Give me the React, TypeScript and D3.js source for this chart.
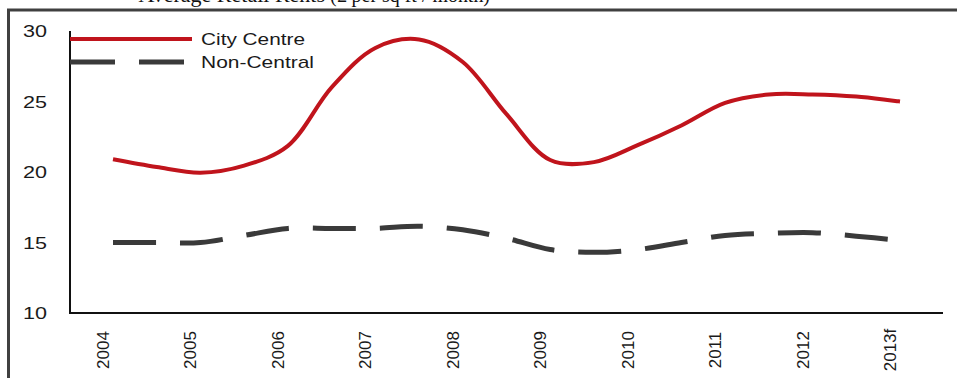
import React from "react";
import * as d3 from "d3";

// Half-yearly observations, 2004 H1 through 2013f H1
const periods: number[] = d3.range(19);
const cityCentre: number[] = [
  20.9, 20.35, 19.95, 20.45, 21.85, 26.0, 28.8, 29.4, 27.8, 24.1,
  20.85, 20.7, 21.9, 23.3, 24.9, 25.5, 25.5, 25.35, 25.0,
];
const nonCentral: number[] = [
  15.0, 15.0, 15.0, 15.5, 16.0, 16.0, 16.0, 16.15, 15.9, 15.3,
  14.5, 14.3, 14.5, 15.0, 15.5, 15.65, 15.7, 15.45, 15.15,
];
const yearLabels: string[] = [
  "2004", "2005", "2006", "2007", "2008", "2009", "2010", "2011", "2012", "2013f",
];
const yTicks: number[] = [10, 15, 20, 25, 30];
const seriesNames: string[] = ["City Centre", "Non-Central"];

const W = 957;
const H = 378;
const FONT = "'Liberation Sans', Arial, sans-serif";

export default function App() {
  const x = d3.scaleLinear().domain([0, 18]).range([113, 900]);
  const y = d3.scaleLinear().domain([10, 30]).range([313, 31]);

  const line = d3
    .line<number>()
    .x((_, i) => x(periods[i]))
    .y((d) => y(d))
    .curve(d3.curveCatmullRom.alpha(0.5));

  const axisLeft = 70;
  const axisRight = 943;

  return (
    <div style={{ position: "fixed", left: 0, top: 0 }}>
      <svg width={W} height={H} style={{ display: "block", background: "#fff" }}>
        {/* chart title, running off the top edge */}
        <text
          x={325}
          y={2}
          textAnchor="end"
          fontFamily="'Liberation Serif', 'Times New Roman', serif"
          fontSize={22}
          fill="#111"
        >
          Average Retail Rents
        </text>
        <text
          x={330}
          y={2}
          textLength={160}
          lengthAdjust="spacingAndGlyphs"
          fontFamily="'Liberation Serif', 'Times New Roman', serif"
          fontSize={22}
          fill="#111"
        >
          (£ per sq ft / month)
        </text>

        {/* outer frame */}
        <rect x={8.5} y={10} width={W + 20} height={H + 20} fill="none" stroke="#404040" strokeWidth={3} />

        {/* y tick labels */}
        {yTicks.map((t) => (
          <text
            key={t}
            x={47}
            y={y(t)}
            dy="0.36em"
            textAnchor="end"
            fontFamily={FONT}
            fontSize={17}
            textLength={24}
            lengthAdjust="spacingAndGlyphs"
            fill="#1a1a1a"
          >
            {t}
          </text>
        ))}

        {/* x tick labels, rotated */}
        {yearLabels.map((lab, i) => {
          const px = x(periods[i * 2]) - 4;
          return (
            <text
              key={lab}
              transform={`translate(${px},350) rotate(-90)`}
              textAnchor="middle"
              fontFamily={FONT}
              fontSize={17}
              fill="#1a1a1a"
            >
              {lab}
            </text>
          );
        })}

        {/* axes */}
        <line x1={axisLeft} x2={axisLeft} y1={y(30)} y2={y(10) + 1} stroke="#111" strokeWidth={2} />
        <line x1={axisLeft} x2={axisRight} y1={y(10)} y2={y(10)} stroke="#111" strokeWidth={2} />

        {/* series */}
        <path d={line(nonCentral) ?? ""} fill="none" stroke="#3a3a3a" strokeWidth={5} strokeDasharray="43 24" />
        <path d={line(cityCentre) ?? ""} fill="none" stroke="#c0141c" strokeWidth={4} strokeLinejoin="round" />

        {/* legend */}
        <line x1={70} x2={192} y1={39} y2={39} stroke="#c0141c" strokeWidth={4} />
        <line x1={70} x2={184} y1={62} y2={62} stroke="#3a3a3a" strokeWidth={5} strokeDasharray="45 24" />
        <text x={201} y={39} dy="0.36em" fontFamily={FONT} fontSize={17} textLength={104} lengthAdjust="spacingAndGlyphs" fill="#1a1a1a">
          {seriesNames[0]}
        </text>
        <text x={201} y={62} dy="0.36em" fontFamily={FONT} fontSize={17} textLength={113} lengthAdjust="spacingAndGlyphs" fill="#1a1a1a">
          {seriesNames[1]}
        </text>
      </svg>
    </div>
  );
}
